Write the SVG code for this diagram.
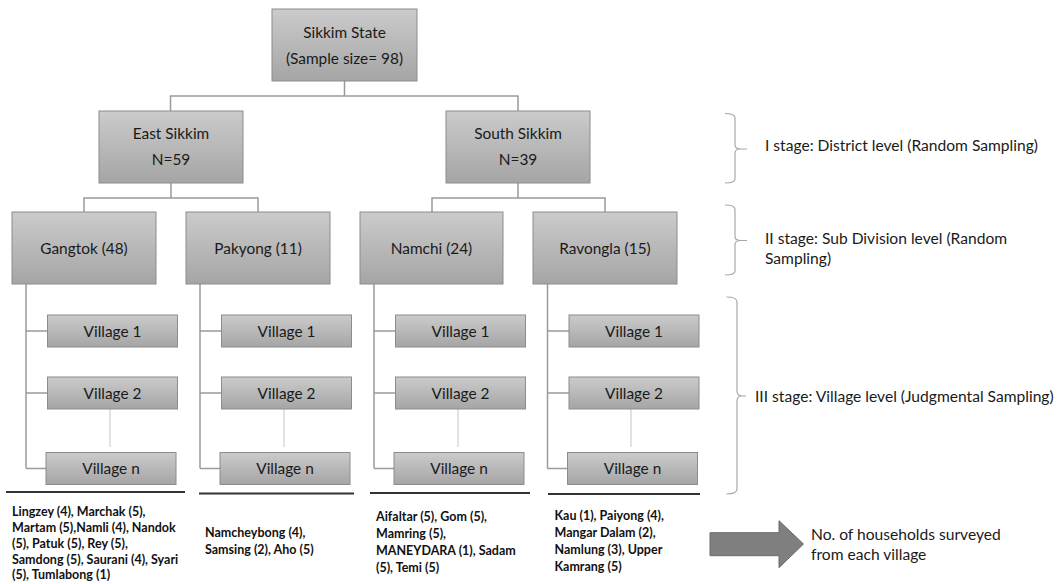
<svg xmlns="http://www.w3.org/2000/svg" width="1062" height="584" viewBox="0 0 1062 584">
<style>
.box{fill:url(#g);stroke:#8c8c8c;stroke-width:1}
.t{font-family:Lato,"Liberation Sans",Arial,sans-serif;font-size:15.4px;fill:#1a1a1a;text-anchor:middle}
.lab{font-family:Lato,"Liberation Sans",Arial,sans-serif;font-size:15.6px;fill:#1a1a1a}
.lst{font-family:Lato,"Liberation Sans",Arial,sans-serif;font-size:12.5px;font-weight:bold;fill:#111}
.con{fill:none;stroke:#9a9a9a;stroke-width:1.5}
.dot{fill:none;stroke:#c4c4c4;stroke-width:1}
.ul{stroke:#333;stroke-width:2}
.br{fill:none;stroke:#a8a8a8;stroke-width:1.2}
</style>
<defs>
<linearGradient id="g" x1="0" y1="0" x2="0" y2="1">
<stop offset="0" stop-color="#cbcbcb"/>
<stop offset="1" stop-color="#a5a5a5"/>
</linearGradient>
</defs>
<rect width="1062" height="584" fill="#fff"/>
<g id="connectors">
<path class="con" d="M344.5,81V96M170.5,111V96H518V111"/>
<path class="con" d="M171,183V198M84,212V198H258V212"/>
<path class="con" d="M518,183V198M432,212V198H605V212"/>
<path class="con" d="M26,284V468.5M26,331H47.5M26,393H47.5M26,468.5H46"/>
<path class="con" d="M200,284V468.5M200,331H221.5M200,393H221.5M200,468.5H220"/>
<path class="con" d="M374,284V468.5M374,331H395.5M374,393H395.5M374,468.5H394"/>
<path class="con" d="M547.5,284V468.5M547.5,331H569M547.5,393H569M547.5,468.5H567.5"/>
</g>
<g id="root"><rect class="box" x="272" y="9" width="145" height="72"/><text class="t" x="344.5" y="37.5">Sikkim State</text><text class="t" x="344.5" y="63.5">(Sample size= 98)</text></g>
<g id="east"><rect class="box" x="99" y="111" width="144" height="72"/><text class="t" x="171" y="138.5">East Sikkim</text><text class="t" x="171" y="164.5">N=59</text></g>
<g id="south"><rect class="box" x="446" y="111" width="144" height="72"/><text class="t" x="518" y="138.5">South Sikkim</text><text class="t" x="518" y="164.5">N=39</text></g>
<g id="gangtok"><rect class="box" x="12" y="212" width="144" height="72"/><text class="t" x="84" y="253.5">Gangtok (48)</text></g>
<g id="pakyong"><rect class="box" x="186" y="212" width="144" height="72"/><text class="t" x="258" y="253.5">Pakyong (11)</text></g>
<g id="namchi"><rect class="box" x="360" y="212" width="143" height="72"/><text class="t" x="431.5" y="253.5">Namchi (24)</text></g>
<g id="ravongla"><rect class="box" x="533" y="212" width="144" height="72"/><text class="t" x="605" y="253.5">Ravongla (15)</text></g>

<g id="gangtok-villages">
<line class="dot" x1="110" y1="402" x2="110" y2="447"/>
<g id="g-v1"><rect class="box" x="47.5" y="315" width="130" height="32"/><text class="t" x="112.5" y="336.5">Village 1</text></g>
<g id="g-v2"><rect class="box" x="47.5" y="377" width="130" height="32"/><text class="t" x="112.5" y="398.5">Village 2</text></g>
<g id="g-vn"><rect class="box" x="46" y="452.5" width="130" height="32"/><text class="t" x="111" y="474">Village n</text></g>
</g>
<g id="pakyong-villages">
<line class="dot" x1="284" y1="402" x2="284" y2="447"/>
<g id="p-v1"><rect class="box" x="221.5" y="315" width="130" height="32"/><text class="t" x="286.5" y="336.5">Village 1</text></g>
<g id="p-v2"><rect class="box" x="221.5" y="377" width="130" height="32"/><text class="t" x="286.5" y="398.5">Village 2</text></g>
<g id="p-vn"><rect class="box" x="220" y="452.5" width="130" height="32"/><text class="t" x="285" y="474">Village n</text></g>
</g>
<g id="namchi-villages">
<line class="dot" x1="458" y1="402" x2="458" y2="447"/>
<g id="n-v1"><rect class="box" x="395.5" y="315" width="130" height="32"/><text class="t" x="460.5" y="336.5">Village 1</text></g>
<g id="n-v2"><rect class="box" x="395.5" y="377" width="130" height="32"/><text class="t" x="460.5" y="398.5">Village 2</text></g>
<g id="n-vn"><rect class="box" x="394" y="452.5" width="130" height="32"/><text class="t" x="459" y="474">Village n</text></g>
</g>
<g id="ravongla-villages">
<line class="dot" x1="631" y1="402" x2="631" y2="447"/>
<g id="r-v1"><rect class="box" x="569" y="315" width="130" height="32"/><text class="t" x="634" y="336.5">Village 1</text></g>
<g id="r-v2"><rect class="box" x="569" y="377" width="130" height="32"/><text class="t" x="634" y="398.5">Village 2</text></g>
<g id="r-vn"><rect class="box" x="567.5" y="452.5" width="130" height="32"/><text class="t" x="632.5" y="474">Village n</text></g>
</g>

<g id="underlines">
<line class="ul" x1="6" y1="492" x2="185" y2="492"/>
<line class="ul" x1="199" y1="493.5" x2="354" y2="493.5"/>
<line class="ul" x1="370" y1="493" x2="530" y2="493"/>
<line class="ul" x1="548" y1="494" x2="700" y2="494"/>
</g>

<g id="gangtok-list" class="lst">
<text x="12" y="516">Lingzey (4), Marchak (5),</text>
<text x="12" y="532">Martam (5),Namli (4), Nandok</text>
<text x="12" y="548">(5), Patuk (5), Rey (5),</text>
<text x="12" y="563.5">Samdong (5), Saurani (4), Syari</text>
<text x="12" y="579">(5), Tumlabong (1)</text>
</g>
<g id="pakyong-list" class="lst">
<text x="205" y="537">Namcheybong (4),</text>
<text x="205" y="554">Samsing (2), Aho (5)</text>
</g>
<g id="namchi-list" class="lst">
<text x="376" y="520.5">Aifaltar (5), Gom (5),</text>
<text x="376" y="537.5">Mamring (5),</text>
<text x="376" y="554.5">MANEYDARA (1), Sadam</text>
<text x="376" y="571.5">(5), Temi (5)</text>
</g>
<g id="ravongla-list" class="lst">
<text x="554.5" y="519.5">Kau (1), Paiyong (4),</text>
<text x="554.5" y="536.5">Mangar Dalam (2),</text>
<text x="554.5" y="553.5">Namlung (3), Upper</text>
<text x="554.5" y="570.5">Kamrang (5)</text>
</g>

<g id="stage1">
<path class="br" d="M725,113.5Q735,113.5 735,118V145Q735,149 741,149H747M741,149Q735,149 735,153V179Q735,183 725,183"/>
<text class="lab" x="765" y="150.5">I stage: District level (Random Sampling)</text>
</g>
<g id="stage2">
<path class="br" d="M725,205Q735,205 735,209.5V236.5Q735,240.5 741,240.5H747M741,240.5Q735,240.5 735,244.5V271Q735,275 725,275"/>
<text class="lab" x="765" y="243.5">II stage: Sub Division level (Random</text>
<text class="lab" x="765" y="264">Sampling)</text>
</g>
<g id="stage3">
<path class="br" d="M726.5,297Q737,297 737,302V391Q737,396 742,396H746M742,396Q737,396 737,401V489Q737,494 726.5,494"/>
<text class="lab" x="755" y="402">III stage: Village level (Judgmental Sampling)</text>
</g>
<g id="legend">
<polygon points="710,532.7 779,532.7 779,520.7 803.5,544 779,567.7 779,555.7 710,555.7" fill="#7f7f7f" stroke="#6b6b6b" stroke-width="1"/>
<text class="lab" x="811" y="540">No. of households surveyed</text>
<text class="lab" x="811" y="560">from each village</text>
</g>
</svg>
